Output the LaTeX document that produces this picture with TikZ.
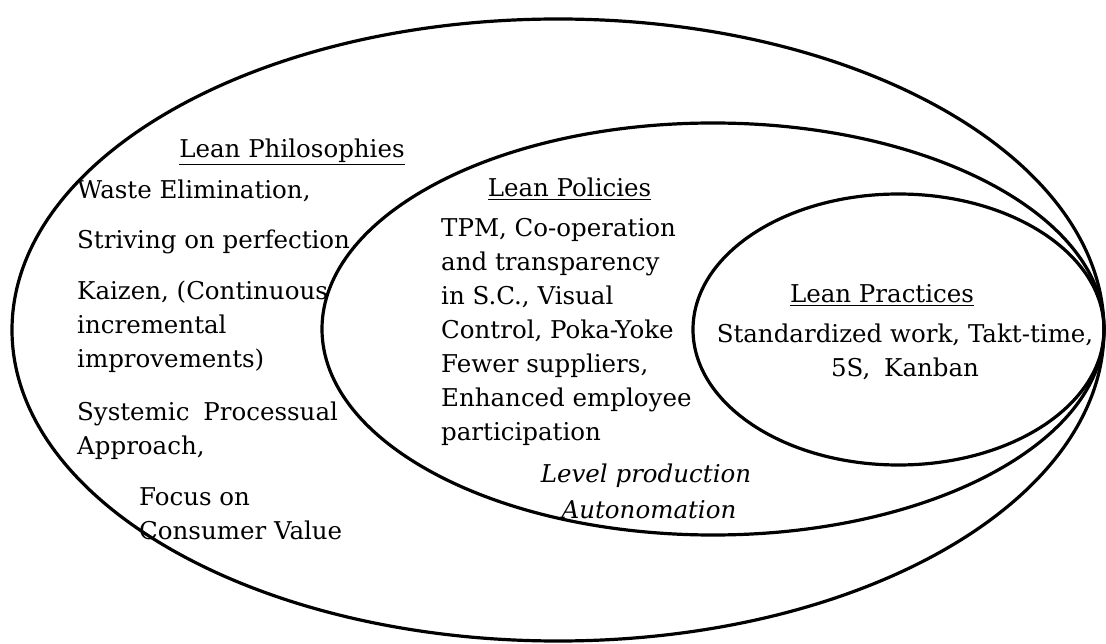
\documentclass[tikz,border=0pt]{standalone}
\usepackage{fontspec}
\setmainfont{DejaVu Serif}
\usetikzlibrary{shapes.geometric}
% lines stacked with the first baseline as the reference point
\newcommand\linestack[2][l]{\begin{tabular}[t]{@{}#1@{}}#2\end{tabular}}
\begin{document}
\begin{tikzpicture}[x=1pt,y=-1pt,
  ring/.style={draw=black, line width=3.2pt, ellipse, inner sep=0pt},
  txt/.style={font=\fontsize{24.5}{34}\selectfont, inner sep=0pt},
  body/.style={txt, anchor=base west},
  head/.style={txt, anchor=base},
  note/.style={txt, anchor=base, font=\fontsize{24.5}{34}\selectfont\itshape}]
\useasboundingbox (0,0) rectangle (1106,644);

% nested ellipses, all touching at the right-hand end
\node[ring, minimum width=1092pt, minimum height=622pt] (outer) at (558,330) {};
\node[ring, minimum width=782pt, minimum height=412pt] (middle) at (713,329) {};
\node[ring, minimum width=411pt, minimum height=271pt] (inner) at (898.5,329.5) {};

% philosophies
\node[head] (philhead) at (292,158) {\underline{Lean Philosophies}};
\node[body] (phil1) at (77,199) {Waste Elimination,};
\node[body] (phil2) at (77,249) {Striving on perfection,};
\node[body] (phil3) at (77,300) {\linestack{Kaizen, (Continuous\\incremental\\improvements)}};
\node[body] (phil4) at (77,420) {\linestack{Systemic\hspace{0.25em} Processual\\Approach,}};
\node[body] (phil5) at (139,505) {\linestack{Focus on\\Consumer Value}};

% policies
\node[head] (polhead) at (569.5,197) {\underline{Lean Policies}};
\node[body] (pol) at (441,237) {\linestack{TPM, Co-operation\\and transparency\\in S.C., Visual\\Control, Poka-Yoke\\Fewer suppliers,\\Enhanced employee\\participation}};
\node[note] (level) at (646,482) {Level production};
\node[note] (auto) at (649,518) {Autonomation};

% practices
\node[head] (prachead) at (882,303) {\underline{Lean Practices}};
\node[head] (prac) at (905,343) {\linestack[c]{Standardized work, Takt-time,\\5S,\hspace{0.25em} Kanban}};
\end{tikzpicture}
\end{document}
